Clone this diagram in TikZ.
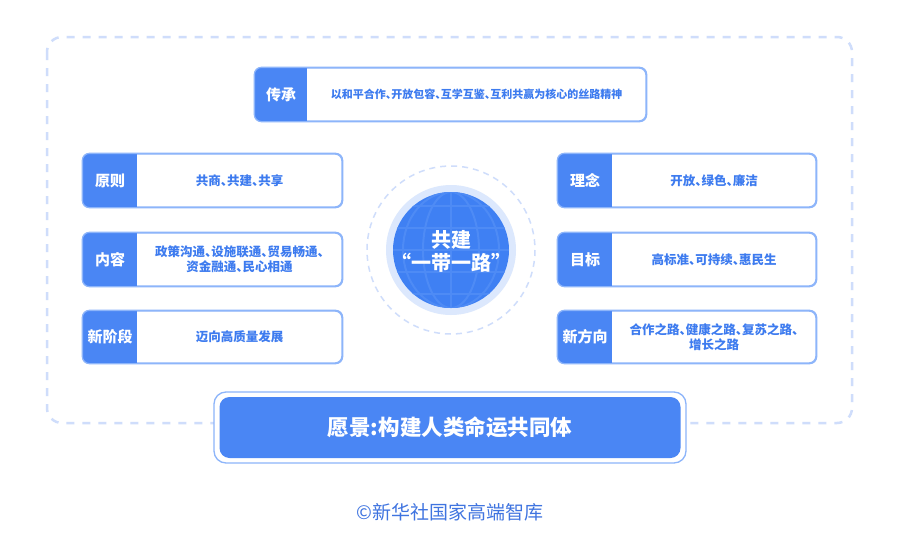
\documentclass[tikz,border=0pt]{standalone}
\usepackage{fontspec}
\setmainfont{Noto Sans CJK SC}
\newfontfamily\cjkhalt{Noto Sans CJK SC}[RawFeature=+halt]
\usetikzlibrary{calc}
\definecolor{tabblue}{HTML}{4A86F4}
\definecolor{diskblue}{HTML}{3F80F3}
\definecolor{gridblue}{HTML}{4E8BF5}
\definecolor{boxborder}{HTML}{8DB5FA}
\definecolor{textblue}{HTML}{3D7BEF}
\definecolor{dashblue}{HTML}{CFDDFB}
\definecolor{ringblue}{HTML}{DCE8FD}
\definecolor{footblue}{HTML}{3F74E0}
\tikzset{
  boxframe/.style={draw=boxborder, line width=1.3pt, rounded corners=7pt, fill=white, inner sep=0pt},
  tablabel/.style={text=white, font=\fontsize{15}{17}\selectfont\bfseries, inner sep=0pt},
  boxtext/.style={text=textblue, font=\cjkhalt\fontsize{12.5}{15}\selectfont\bfseries, align=center, inner sep=0pt},
  gridline/.style={gridblue, line width=2pt},
}
% name, x1, y1, x2, y2, tab right, label, text
\newcommand\infobox[8]{%
  \node[boxframe, minimum width={(#4-#2)*1pt}, minimum height={(#5-#3)*1pt}] (#1) at ({(#2+#4)/2},{(#3+#5)/2}) {};
  \begin{scope}
    \clip[rounded corners=7pt] (#1.south west) rectangle (#1.north east);
    \fill[tabblue] (#2,#3) rectangle (#6,#5);
  \end{scope}
  \draw[draw=boxborder, line width=1.3pt, rounded corners=7pt] (#1.south west) rectangle (#1.north east);
  \node[tablabel] (#1-tab) at ({(#2+#6)/2},{(#3+#5)/2}) {#7};
  \node[boxtext] (#1-text) at ({(#6+#4)/2},{(#3+#5)/2}) {#8};
}
\begin{document}
\begin{tikzpicture}[x=1pt,y=-1pt]
\useasboundingbox[fill=white] (0,0) rectangle (900,538);
% outer dashed frame
\draw[dashblue, line width=2.5pt, dash pattern=on 8pt off 8pt, rounded corners=15pt] (47,37) rectangle (852,423);
% globe
\coordinate (gc) at (451,250);
\draw[dashblue, line width=1.5pt, dash pattern=on 6pt off 5pt] (gc) circle (84);
\fill[ringblue] (gc) circle (65);
\fill[diskblue] (gc) circle (58);
\begin{scope}
  \clip (gc) circle (58);
  \draw[gridline] ($(gc)+(-60,-44)$) -- ++(120,0);
  \draw[gridline] ($(gc)+(-60,-22)$) -- ++(120,0);
  \draw[gridline] ($(gc)+(-60,0)$) -- ++(120,0);
  \draw[gridline] ($(gc)+(-60,22)$) -- ++(120,0);
  \draw[gridline] ($(gc)+(-60,44)$) -- ++(120,0);
  \draw[gridline] ($(gc)+(0,-60)$) -- ++(0,120);
  \draw[gridline] (gc) ellipse (28 and 58);
  \draw[gridline] (gc) ellipse (48 and 58);
\end{scope}
\node[text=white, font=\fontsize{20}{23}\selectfont\bfseries, align=center, inner sep=0pt] (core) at (451,251) {共建\\“一带一路”};
% boxes
\infobox{cc}{255}{68}{646}{121}{307}{传承}{\fontsize{11}{14}\selectfont 以和平合作、开放包容、互学互鉴、互利共赢为核心的丝路精神}
\infobox{yz}{83}{154}{342}{207}{137}{原则}{共商、共建、共享}
\infobox{nr}{83}{233}{342}{286}{137}{内容}{政策沟通、设施联通、贸易畅通、\\资金融通、民心相通}
\infobox{xjd}{83}{311}{342}{363}{137}{新阶段}{迈向高质量发展}
\infobox{ln}{558}{154}{816}{207}{612}{理念}{开放、绿色、廉洁}
\infobox{mb}{558}{233}{816}{286}{612}{目标}{高标准、可持续、惠民生}
\infobox{xfx}{558}{311}{816}{363}{612}{新方向}{合作之路、健康之路、复苏之路、\\增长之路}
% vision box
\node[draw=boxborder, line width=1.3pt, fill=white, rounded corners=12pt, minimum width=472pt, minimum height=71pt, inner sep=0pt] (visionout) at (450,427.5) {};
\node[fill=tabblue, rounded corners=10pt, minimum width=461pt, minimum height=61pt, inner sep=0pt, text=white, font=\fontsize{21.5}{24}\selectfont\bfseries] (vision) at (450,427.5) {愿景:构建人类命运共同体};
% footer
\node[text=footblue, font=\fontsize{19}{21}\selectfont, inner sep=0pt] (foot) at (450,512) {©新华社国家高端智库};
\end{tikzpicture}
\end{document}
